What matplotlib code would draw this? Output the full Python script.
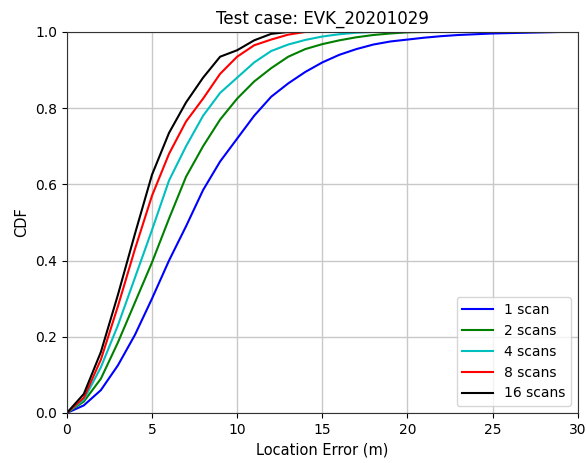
import matplotlib

matplotlib.use("Agg")
import matplotlib.pyplot as plt

# location error (m) at which each CDF sample was taken
err_m = list(range(0, 31))

cdf_1 = [0.0, 0.02, 0.06, 0.125, 0.205, 0.30, 0.40, 0.49, 0.585, 0.66, 0.72,
         0.78, 0.83, 0.865, 0.895, 0.92, 0.94, 0.955, 0.967, 0.975, 0.98,
         0.985, 0.989, 0.992, 0.994, 0.996, 0.997, 0.998, 0.999, 1.0, 1.0]
cdf_2 = [0.0, 0.03, 0.09, 0.185, 0.29, 0.395, 0.51, 0.62, 0.70, 0.77, 0.825,
         0.87, 0.905, 0.935, 0.955, 0.968, 0.978, 0.986, 0.992, 0.996, 0.999,
         1.0, 1.0, 1.0, 1.0, 1.0, 1.0, 1.0, 1.0, 1.0, 1.0]
cdf_4 = [0.0, 0.035, 0.12, 0.23, 0.355, 0.48, 0.61, 0.70, 0.78, 0.84, 0.88,
         0.92, 0.95, 0.967, 0.979, 0.988, 0.994, 0.998, 1.0, 1.0, 1.0,
         1.0, 1.0, 1.0, 1.0, 1.0, 1.0, 1.0, 1.0, 1.0, 1.0]
cdf_8 = [0.0, 0.04, 0.14, 0.28, 0.43, 0.57, 0.68, 0.765, 0.825, 0.89, 0.935,
         0.965, 0.98, 0.993, 1.0, 1.0, 1.0, 1.0, 1.0, 1.0, 1.0,
         1.0, 1.0, 1.0, 1.0, 1.0, 1.0, 1.0, 1.0, 1.0, 1.0]
cdf_16 = [0.0, 0.05, 0.16, 0.31, 0.47, 0.625, 0.735, 0.815, 0.88, 0.935, 0.952,
          0.978, 0.995, 1.0, 1.0, 1.0, 1.0, 1.0, 1.0, 1.0, 1.0,
          1.0, 1.0, 1.0, 1.0, 1.0, 1.0, 1.0, 1.0, 1.0, 1.0]

series = [
    ("1 scan", cdf_1, "b"),
    ("2 scans", cdf_2, "g"),
    ("4 scans", cdf_4, "c"),
    ("8 scans", cdf_8, "r"),
    ("16 scans", cdf_16, "k"),
]

plt.rcParams["font.family"] = "DejaVu Sans"

fig = plt.figure(figsize=(5.86, 4.63), dpi=100, facecolor="white")
ax = fig.add_axes([0.114, 0.108, 0.872, 0.823])

for label, vals, color in series:
    ax.plot(err_m, vals, color=color, lw=1.5, label=label)

ax.set_xlim(0, 30)
ax.set_ylim(0, 1.0)
ax.set_xticks([0, 5, 10, 15, 20, 25, 30])
ax.set_yticks([0.0, 0.2, 0.4, 0.6, 0.8, 1.0])
ax.grid(True, color="#c8c8c8", lw=1.0)
ax.set_axisbelow(True)
ax.tick_params(labelsize=10)
for spine in ax.spines.values():
    spine.set_color("#333333")

ax.set_title("Test case: EVK_20201029", fontsize=12)
ax.set_xlabel("Location Error (m)", fontsize=10.5)
ax.set_ylabel("CDF", fontsize=10.5)
ax.legend(loc="lower right", fontsize=10, handlelength=2.2)

fig.savefig("out.png", dpi=100, facecolor="white")
